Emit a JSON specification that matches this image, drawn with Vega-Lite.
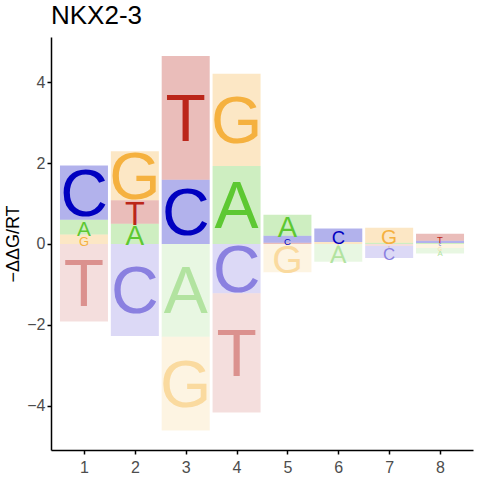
{
  "$schema": "https://vega.github.io/schema/vega-lite/v6.json",
  "width": 422,
  "height": 413,
  "autosize": {"type": "none"},
  "padding": {"left": 51, "top": 37, "right": 7, "bottom": 30},
  "background": "white",
  "title": {
    "text": "NKX2-3",
    "anchor": "start",
    "frame": "group",
    "font": "Liberation Sans",
    "fontSize": 26,
    "fontWeight": "normal",
    "color": "black",
    "offset": 8
  },
  "config": {
    "view": {"stroke": null},
    "axis": {
      "grid": false,
      "domainColor": "black",
      "domainWidth": 1.5,
      "tickColor": "black",
      "tickWidth": 1.5,
      "tickSize": 4,
      "labelFont": "Liberation Sans",
      "labelFontSize": 16,
      "labelColor": "#4D4D4D",
      "labelPadding": 2,
      "titleFont": "Liberation Sans",
      "titleFontSize": 18,
      "titleFontWeight": "normal",
      "titleColor": "black"
    }
  },
  "data": {
    "values": [
      {"pos": 1, "letter": "G", "v": 0.23},
      {"pos": 1, "letter": "A", "v": 0.37},
      {"pos": 1, "letter": "C", "v": 1.34},
      {"pos": 1, "letter": "T", "v": -1.92},
      {"pos": 2, "letter": "A", "v": 0.5},
      {"pos": 2, "letter": "T", "v": 0.58},
      {"pos": 2, "letter": "G", "v": 1.21},
      {"pos": 2, "letter": "C", "v": -2.28},
      {"pos": 3, "letter": "C", "v": 1.59},
      {"pos": 3, "letter": "T", "v": 3.06},
      {"pos": 3, "letter": "A", "v": -2.3},
      {"pos": 3, "letter": "G", "v": -2.32},
      {"pos": 4, "letter": "A", "v": 1.93},
      {"pos": 4, "letter": "G", "v": 2.28},
      {"pos": 4, "letter": "C", "v": -1.22},
      {"pos": 4, "letter": "T", "v": -2.95},
      {"pos": 5, "letter": "T", "v": 0.03},
      {"pos": 5, "letter": "C", "v": 0.17},
      {"pos": 5, "letter": "A", "v": 0.52},
      {"pos": 5, "letter": "G", "v": -0.7},
      {"pos": 6, "letter": "G", "v": 0.05},
      {"pos": 6, "letter": "C", "v": 0.33},
      {"pos": 6, "letter": "A", "v": -0.44},
      {"pos": 7, "letter": "A", "v": 0.03},
      {"pos": 7, "letter": "G", "v": 0.37},
      {"pos": 7, "letter": "T", "v": -0.05},
      {"pos": 7, "letter": "C", "v": -0.3},
      {"pos": 8, "letter": "A", "v": 0.02},
      {"pos": 8, "letter": "C", "v": 0.06},
      {"pos": 8, "letter": "T", "v": 0.17},
      {"pos": 8, "letter": "G", "v": -0.1},
      {"pos": 8, "letter": "A", "v": -0.14}
    ]
  },
  "transform": [
    {"calculate": "abs(datum.v)", "as": "a"},
    {"calculate": "datum.letter + (datum.v < 0 ? '-' : '+')", "as": "k"},
    {"stack": "v", "groupby": ["pos"], "sort": [{"field": "a", "order": "ascending"}], "as": ["y0", "y1"]},
    {"calculate": "(datum.y0 + datum.y1) / 2", "as": "ym"}
  ],
  "encoding": {
    "x": {
      "field": "pos",
      "type": "quantitative",
      "scale": {"domain": [0.45, 8.55], "nice": false, "zero": false},
      "axis": {"values": [1, 2, 3, 4, 5, 6, 7, 8], "title": null, "format": "d", "labelPadding": 5}
    },
    "color": {
      "field": "k",
      "type": "nominal",
      "scale": {
        "domain": ["A+", "C+", "G+", "T+", "A-", "C-", "G-", "T-"],
        "range": ["#5DC832", "#0000C0", "#F5B13F", "#BB261A", "#B2E3A0", "#8A80E0", "#FADA9F", "#DB918E"]
      },
      "legend": null
    }
  },
  "layer": [
    {
      "mark": {"type": "bar", "size": 48, "opacity": 0.3},
      "encoding": {
        "y": {
          "field": "y0",
          "type": "quantitative",
          "scale": {"domain": [-5.1, 5.12], "nice": false, "zero": false},
          "axis": {"values": [-4, -2, 0, 2, 4], "title": "−ΔΔG/RT", "titlePadding": 4}
        },
        "y2": {"field": "y1"}
      }
    },
    {
      "mark": {"type": "text", "font": "Liberation Sans", "baseline": "middle", "align": "center", "dy": 3},
      "encoding": {
        "y": {"field": "ym", "type": "quantitative"},
        "text": {"field": "letter"},
        "size": {
          "field": "a",
          "type": "quantitative",
          "scale": {"domain": [0, 1.18], "range": [0, 66], "clamp": true, "zero": true},
          "legend": null
        }
      }
    },
    {
      "mark": {"type": "rule", "color": "black", "strokeWidth": 1},
      "encoding": {"y": {"datum": 0}, "color": {"value": "black"}}
    }
  ]
}
